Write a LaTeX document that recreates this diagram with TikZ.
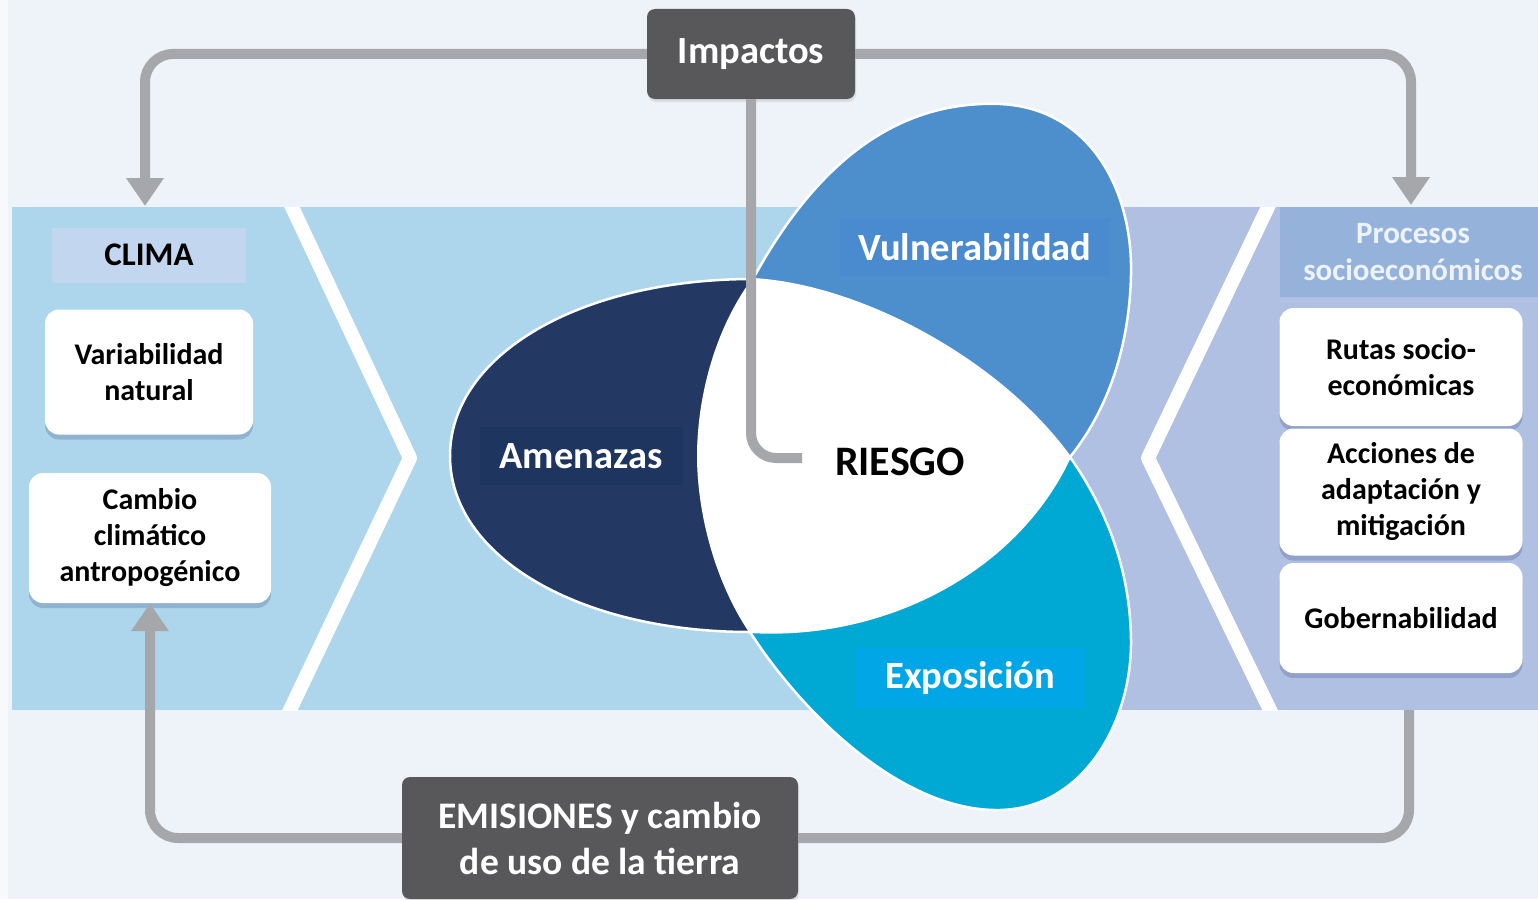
\documentclass[tikz,border=0pt]{standalone}
\usepackage{fontspec}
\setmainfont{Carlito}
\usetikzlibrary{arrows.meta,shadows}
\definecolor{bgc}{HTML}{EEF3F9}
\definecolor{bgedge}{HTML}{F7F9FC}
\definecolor{bandblue}{HTML}{ADD6EC}
\definecolor{bandlav}{HTML}{AFC0E2}
\definecolor{climalab}{HTML}{C3D6EF}
\definecolor{proclab}{HTML}{95B3DA}
\definecolor{proctext}{HTML}{EEF3FA}
\definecolor{navy}{HTML}{233963}
\definecolor{navylab}{HTML}{1E3560}
\definecolor{vulc}{HTML}{4D8ECD}
\definecolor{vullab}{HTML}{4A8BD0}
\definecolor{expc}{HTML}{00A9D3}
\definecolor{explab}{HTML}{00A6E6}
\definecolor{connc}{HTML}{A6A7AA}
\definecolor{darkfill}{HTML}{58585A}
\begin{document}
\begin{tikzpicture}[x=1pt,y=-1pt,
  conn/.style={draw=connc, line width=10pt, rounded corners=28pt},
  tipend/.style={-{Triangle[width=36pt,length=28pt]}},
  whitebox/.style={fill=white, rounded corners=14pt, inner sep=0pt, align=center,
    font=\fontsize{30}{36}\selectfont\bfseries,
    drop shadow={shadow xshift=0pt, shadow yshift=-5pt, opacity=0.16, fill=black!70!blue}},
  darkbox/.style={fill=darkfill, rounded corners=8pt, inner sep=0pt, align=center, text=white,
    drop shadow={shadow xshift=1pt, shadow yshift=-3pt, opacity=0.18}},
  petallabel/.style={inner sep=0pt, text=white, font=\fontsize{38.5}{44}\selectfont\bfseries},
  petaledge/.style={draw=white, line width=2.5pt},
  chevron/.style={draw=white, line width=14pt, line join=round}]
\useasboundingbox (0,0) rectangle (1538,899);
% background
\fill[bgc] (0,0) rectangle (1538,899);
\fill[bgedge] (0,0) rectangle (8,899);
% band
\fill[bandblue] (12,207) rectangle (1000,710);
\fill[bandlav] (1000,207) rectangle (1538,710);
\begin{scope}
  \clip (12,207) rectangle (1538,710);
  \draw[chevron] (286,195) -- (292,207) -- (410,458) -- (290,710) -- (284,722);
  \draw[chevron] (1274,195) -- (1268,207) -- (1148,458) -- (1270,710) -- (1276,722);
\end{scope}
% petals
\coordinate (A) at (753,279);
\coordinate (B) at (1070,457);
\coordinate (C) at (750,632);
\fill[navy] (A) .. controls (580,279) and (450,355) .. (450,456) .. controls (450,557) and (580,632) .. (C)
  .. controls (712,575) and (698,505) .. (698,456) .. controls (698,405) and (712,335) .. (A) -- cycle;
\draw[petaledge] (A) .. controls (580,279) and (450,355) .. (450,456) .. controls (450,557) and (580,632) .. (C);
\fill[vulc] (A) .. controls (815,165) and (895,100) .. (1000,104) .. controls (1090,108) and (1133,190) .. (1131,275)
  .. controls (1129,360) and (1100,420) .. (B) .. controls (1000,360) and (860,285) .. (A) -- cycle;
\draw[petaledge] (A) .. controls (815,165) and (895,100) .. (1000,104) .. controls (1090,108) and (1133,190) .. (1131,275)
  .. controls (1129,360) and (1100,420) .. (B);
\fill[expc] (C) .. controls (800,710) and (900,812) .. (1000,810) .. controls (1085,808) and (1132,720) .. (1131,640)
  .. controls (1130,560) and (1100,500) .. (B) .. controls (1015,575) and (880,640) .. (C) -- cycle;
\draw[petaledge] (C) .. controls (800,710) and (900,812) .. (1000,810) .. controls (1085,808) and (1132,720) .. (1131,640)
  .. controls (1130,560) and (1100,500) .. (B);
% white centre
\fill[white] (A) .. controls (860,285) and (1000,360) .. (B) .. controls (1015,575) and (880,640) .. (C)
  .. controls (712,575) and (698,505) .. (698,456) .. controls (698,405) and (712,335) .. (A) -- cycle;
\draw[white, line width=2pt] (A) .. controls (860,285) and (1000,360) .. (B) .. controls (1015,575) and (880,640) .. (C)
  .. controls (712,575) and (698,505) .. (698,456) .. controls (698,405) and (712,335) .. (A) -- cycle;
% petal labels
\node[petallabel, fill=navylab, minimum width=203pt, minimum height=58pt] (amen) at (581,456) {Amenazas};
\node[petallabel, fill=vullab, minimum width=270pt, minimum height=58pt] (vuln) at (975,247) {Vulnerabilidad};
\node[petallabel, fill=explab, minimum width=230pt, minimum height=60pt] (expo) at (970,678) {Exposición};
% left column
\node[fill=climalab, inner sep=0pt, minimum width=194pt, minimum height=55pt,
  font=\fontsize{33}{38}\selectfont\bfseries] (clima) at (149,255) {CLIMA};
\node[whitebox, minimum width=208pt, minimum height=125pt] (var) at (149,372) {Variabilidad\\natural};
\node[whitebox, minimum width=242pt, minimum height=130pt] (cambio) at (150,538) {Cambio\\climático\\antropogénico};
% right column
\node[fill=proclab, inner sep=0pt, minimum width=258pt, minimum height=90pt, align=center, text=proctext,
  font=\fontsize{31}{37}\selectfont\bfseries] (proc) at (1409,252) {\hspace*{8pt}Procesos\\\hspace*{8pt}socioeconómicos};
\node[whitebox, minimum width=243pt, minimum height=118pt] (rutas) at (1401,367) {Rutas socio-\\económicas};
\node[whitebox, minimum width=243pt, minimum height=127pt] (acc) at (1401,492) {Acciones de\\adaptación y\\mitigación};
\node[whitebox, minimum width=243pt, minimum height=110pt] (gob) at (1401,618) {Gobernabilidad};
% dark boxes
\node[darkbox, minimum width=208pt, minimum height=90pt, font=\fontsize{38.5}{44}\selectfont\bfseries] (imp) at (751,54) {Impactos};
% connectors
\coordinate (climaIn) at (145,206);
\coordinate (procIn) at (1411,205);
\coordinate (procOut) at (1409,710);
\coordinate (riskEnd) at (802,458);
\draw[conn, tipend] (imp.west) -| (climaIn);
\draw[conn, tipend] (imp.east) -| (procIn);
\draw[conn, rounded corners=25pt] (imp.south) |- (riskEnd);
\node[darkbox, minimum width=396pt, minimum height=122pt, font=\fontsize{37.5}{46}\selectfont\bfseries] (emi) at (600,838) {EMISIONES y cambio\\de uso de la tierra};
\draw[conn] (emi.east) -| (procOut);
\draw[conn, tipend] (emi.west) -| (cambio.south);
% centre label
\node[inner sep=0pt, font=\fontsize{42}{48}\selectfont\bfseries] (riesgo) at (900,462) {RIESGO};
\end{tikzpicture}
\end{document}
